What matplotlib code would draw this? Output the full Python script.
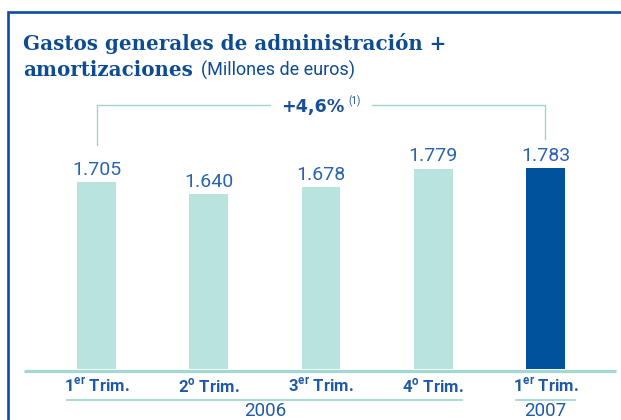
import matplotlib
matplotlib.use("Agg")
import matplotlib.pyplot as plt
from matplotlib.lines import Line2D
from matplotlib import transforms

# ---- data ----
quarters = ["1", "2", "3", "4", "1"]
quarter_sup = ["er", "o", "er", "o", "er"]
years = ["2006", "2007"]
year_groups = [[0, 1, 2, 3], [4]]
values = [1705, 1640, 1678, 1779, 1783]
value_labels = ["1.705", "1.640", "1.678", "1.779", "1.783"]
growth_label = "+4,6%"
growth_note = "(1)"
title_line1 = "Gastos generales de administración +"
title_line2 = "amortizaciones"
subtitle = "(Millones de euros)"

# ---- style ----
W, H = 621, 420
LIGHT = "#b9e3dd"
DARK = "#00529c"
TEAL = "#a3d8d1"
TITLE_C = "#0d4c93"
VAL_C = "#2b64ae"
TICK_C = "#1f5aa6"
SANS = ["Roboto", "DejaVu Sans"]
SERIF = "DejaVu Serif"

plt.rcParams["mathtext.fontset"] = "custom"
plt.rcParams["mathtext.rm"] = "Roboto"
plt.rcParams["mathtext.bf"] = "Roboto:bold"

fig = plt.figure(figsize=(W / 100, H / 100), dpi=100)

def fx(px):
    return px / W

def fy(py):
    return 1 - py / H

# axes: baseline at y=369 px, x range 24..619 px
ax = fig.add_axes([fx(24), fy(369), fx(619) - fx(24), (369 - 69) / H])
x = list(range(len(values)))
colors = [LIGHT] * (len(values) - 1) + [DARK]
ax.bar(x, values, width=0.347, color=colors, zorder=2)
ax.set_xlim(-0.646, 4.655)
ax.set_ylim(678.5, 678.5 + 300 / 0.182)
ax.axis("off")

# baseline
ax.plot([-0.646, 4.63], [-0.005, -0.005], transform=ax.get_xaxis_transform(),
        color=TEAL, lw=2.3, clip_on=False, solid_capstyle="butt", zorder=3)

# value labels
for xi, v, lab in zip(x, values, value_labels):
    ax.annotate(lab, (xi, v), xytext=(0, 5.2), textcoords="offset points",
                ha="center", va="baseline", fontsize=14, color=VAL_C,
                family=SANS)

blend = transforms.blended_transform_factory(ax.transData, fig.transFigure)

# tick labels
for xi, q, s in zip(x, quarters, quarter_sup):
    ax.text(xi, fy(392), q + r"$^{\mathbf{" + s + r"}}$ Trim.", transform=blend,
            ha="center", va="baseline", fontsize=12, fontweight="bold",
            color=TICK_C, family=SANS)

# year groups with underline
for yr, grp in zip(years, year_groups):
    x0, x1 = grp[0] - 0.26, grp[-1] + 0.26
    ax.add_line(Line2D([x0, x1], [fy(399.5), fy(399.5)], transform=blend,
                       color=TEAL, lw=1.3, clip_on=False))
    ax.text((grp[0] + grp[-1]) / 2, fy(416), yr, transform=blend,
            ha="center", va="baseline", fontsize=13.5, color=TICK_C,
            family=SANS)

# growth bracket
c = (x[0] + x[-1]) / 2
gap = 0.454
br = dict(transform=blend, color="#9fd3cc", lw=1.0, clip_on=False)
ax.add_line(Line2D([x[0], x[0], c - gap], [fy(145), fy(105), fy(105)], **br))
ax.add_line(Line2D([c + gap, x[-1], x[-1]], [fy(105), fy(105), fy(139)], **br))
ax.text(c + 0.205, fy(112), growth_label, transform=blend, ha="right",
        va="baseline", fontsize=12.6, fontweight="bold", color="#1a4f97",
        family="DejaVu Sans")
ax.text(c + 0.24, fy(104), growth_note, transform=blend, ha="left",
        va="baseline", fontsize=7, color="#1a4f97", family=SANS)

# title
fig.text(fx(23), fy(50), title_line1, ha="left", va="baseline", fontsize=14.3,
         fontweight="bold", color=TITLE_C, family=SERIF)
t2 = fig.text(fx(23), fy(75.5), title_line2, ha="left", va="baseline",
              fontsize=14.3, fontweight="bold", color=TITLE_C, family=SERIF)
fig.canvas.draw()
ext = t2.get_window_extent()
fig.text((ext.x1 + 8) / W, fy(75.5), subtitle, ha="left", va="baseline",
         fontsize=13, color=TITLE_C, family=SANS)

# frame
fig.add_artist(Line2D([fx(8), fx(8), 1], [0, fy(12), fy(12)],
                      transform=fig.transFigure, color="#0a4f9e", lw=1.9,
                      solid_joinstyle="miter"))

fig.savefig("out.png", dpi=100)
